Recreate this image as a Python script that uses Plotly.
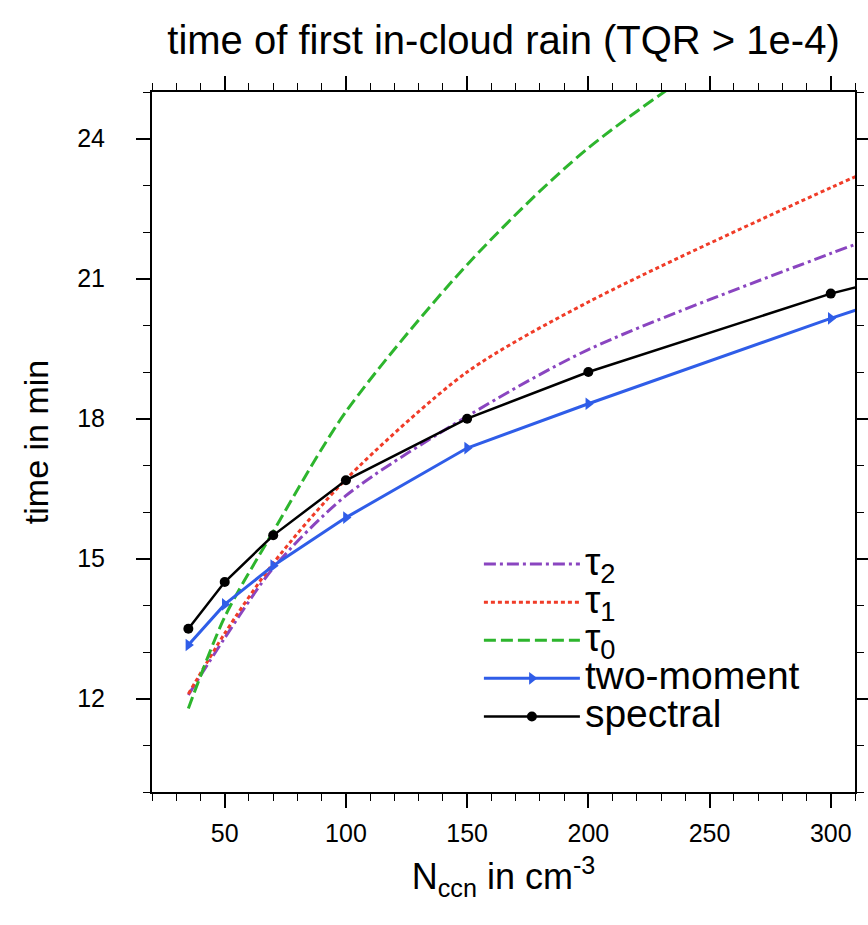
import plotly.graph_objects as go

# N_ccn sample points (last point lies beyond the visible axis range)
n_ccn = [35, 50, 70, 100, 150, 200, 300, 400]

tau2 = [12.08, 13.30, 14.80, 16.35, 18.05, 19.48, 21.54, 23.40]
tau1 = [12.10, 13.40, 14.90, 16.70, 19.00, 20.50, 22.95, 25.20]
tau0 = [11.79, 13.75, 15.58, 18.15, 21.30, 23.80, 27.40, 30.60]
two_moment = [13.15, 14.02, 14.85, 15.88, 17.37, 18.32, 20.15, 21.85]
spectral = [13.50, 14.50, 15.50, 16.68, 18.00, 19.00, 20.68, 22.00]

x_ticks = [50, 100, 150, 200, 250, 300]
y_ticks = [12, 15, 18, 21, 24]

FONT = "Liberation Sans, Arial, Helvetica, sans-serif"
LEG_SPAN = '<span style="font-size:39px">{}</span>'

fig = go.Figure()

fig.add_trace(go.Scatter(
    x=n_ccn, y=tau2, mode="lines", name=LEG_SPAN.format("τ<sub>2</sub>"),
    line=dict(color="#8a45c0", width=3, dash="12px,4px,3px,4px", shape="spline", smoothing=0.8)))
fig.add_trace(go.Scatter(
    x=n_ccn, y=tau1, mode="lines", name=LEG_SPAN.format("τ<sub>1</sub>"),
    line=dict(color="#f03c28", width=3, dash="4px,3px", shape="spline", smoothing=0.8)))
fig.add_trace(go.Scatter(
    x=n_ccn, y=tau0, mode="lines", name=LEG_SPAN.format("τ<sub>0</sub>"),
    line=dict(color="#2db52d", width=3, dash="12px,5px", shape="spline", smoothing=0.8)))
fig.add_trace(go.Scatter(
    x=n_ccn, y=two_moment, mode="lines+markers", name=LEG_SPAN.format("two-moment"),
    line=dict(color="#2f5de8", width=3),
    marker=dict(symbol="triangle-right", size=11, color="#2f5de8")))
fig.add_trace(go.Scatter(
    x=n_ccn, y=spectral, mode="lines+markers", name=LEG_SPAN.format("spectral"),
    line=dict(color="black", width=2.5),
    marker=dict(symbol="circle", size=10, color="black")))

axis_common = dict(
    showline=True, linecolor="black", linewidth=2, mirror="allticks",
    ticks="outside", ticklen=14, tickwidth=1.5, tickcolor="black",
    showgrid=False, zeroline=False, automargin=False,
    tickfont=dict(family=FONT, size=25, color="black"),
)

fig.update_xaxes(
    range=[20, 310], tickvals=x_ticks,
    minor=dict(dtick=10, tick0=0, ticks="outside", ticklen=7, tickwidth=1.2, tickcolor="black"),
    ticklabelstandoff=4,
    title=dict(text="N<sub>ccn</sub> in cm<sup>-3</sup>", font=dict(family=FONT, size=36, color="black"),
               standoff=18),
    **axis_common)
fig.update_yaxes(
    range=[10, 25], tickvals=y_ticks,
    minor=dict(dtick=1, tick0=0, ticks="outside", ticklen=7, tickwidth=1.2, tickcolor="black"),
    ticklabelstandoff=26,
    title=dict(text="time in min", font=dict(family=FONT, size=34, color="black"), standoff=18),
    **axis_common)

fig.update_layout(
    width=868, height=925,
    margin=dict(l=152, r=13, t=92, b=133),
    paper_bgcolor="white", plot_bgcolor="white",
    title=dict(text="time of first in-cloud rain (TQR > 1e-4)", x=0.5, xref="paper",
               y=1 - 40 / 925, yref="container", yanchor="middle",
               font=dict(family=FONT, size=40, color="black")),
    legend=dict(x=0.465, y=0.36, xanchor="left", yanchor="top",
                bgcolor="rgba(0,0,0,0)", borderwidth=0, itemwidth=96,
                font=dict(family=FONT, size=27, color="black"),
                itemclick=False),
    showlegend=True,
)

fig.write_html("out.html")
